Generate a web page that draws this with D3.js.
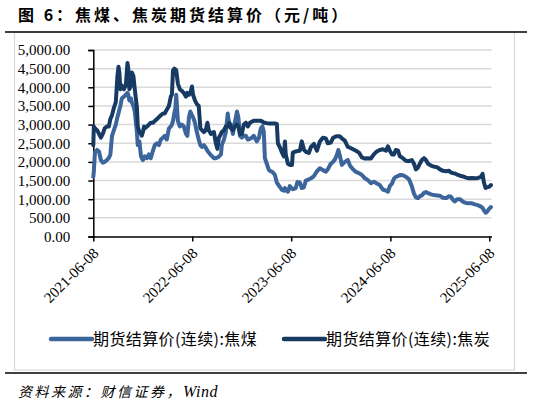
<!DOCTYPE html>
<html><head><meta charset="utf-8">
<script src="https://cdn.jsdelivr.net/npm/d3@7/dist/d3.min.js"></script>
<style>
body{margin:0;background:#fff;}
svg{display:block;}
</style></head>
<body><svg id="c" width="534" height="405"></svg>
<script>
const dates = ["2021-06-08","2021-06-10","2021-06-14","2021-06-22","2021-06-29","2021-07-06","2021-07-13","2021-07-20","2021-07-28","2021-08-04","2021-08-10","2021-08-16","2021-08-23","2021-08-30","2021-09-05","2021-09-09","2021-09-12","2021-09-16","2021-09-21","2021-09-29","2021-10-06","2021-10-12","2021-10-15","2021-10-19","2021-10-25","2021-10-28","2021-11-03","2021-11-08","2021-11-16","2021-11-19","2021-11-25","2021-12-01","2021-12-04","2021-12-08","2021-12-12","2021-12-15","2021-12-23","2021-12-30","2022-01-06","2022-01-14","2022-01-21","2022-01-29","2022-02-05","2022-02-12","2022-02-20","2022-02-27","2022-03-06","2022-03-14","2022-03-21","2022-03-25","2022-03-29","2022-04-03","2022-04-07","2022-04-10","2022-04-16","2022-04-23","2022-05-01","2022-05-08","2022-05-16","2022-05-21","2022-05-27","2022-06-01","2022-06-07","2022-06-11","2022-06-18","2022-06-25","2022-07-02","2022-07-08","2022-07-14","2022-07-21","2022-07-28","2022-08-03","2022-08-08","2022-08-16","2022-08-27","2022-09-03","2022-09-09","2022-09-14","2022-09-22","2022-09-25","2022-10-03","2022-10-10","2022-10-17","2022-10-23","2022-10-29","2022-11-05","2022-11-12","2022-11-20","2022-11-25","2022-12-01","2022-12-08","2022-12-15","2022-12-23","2022-12-30","2023-01-07","2023-01-14","2023-01-21","2023-02-01","2023-02-09","2023-02-16","2023-02-22","2023-02-27","2023-03-03","2023-03-10","2023-03-18","2023-03-25","2023-04-01","2023-04-09","2023-04-16","2023-04-20","2023-04-27","2023-05-05","2023-05-12","2023-05-16","2023-05-19","2023-05-27","2023-06-03","2023-06-11","2023-06-14","2023-06-25","2023-07-01","2023-07-10","2023-07-17","2023-07-25","2023-08-01","2023-08-12","2023-08-20","2023-08-31","2023-09-11","2023-09-22","2023-10-03","2023-10-14","2023-10-21","2023-11-01","2023-11-09","2023-11-16","2023-11-24","2023-11-29","2023-12-05","2023-12-12","2023-12-23","2024-01-03","2024-01-11","2024-01-22","2024-02-02","2024-02-13","2024-02-24","2024-03-06","2024-03-17","2024-03-28","2024-04-08","2024-04-19","2024-04-30","2024-05-11","2024-05-23","2024-05-30","2024-06-06","2024-06-14","2024-06-21","2024-06-28","2024-07-06","2024-07-13","2024-07-24","2024-08-04","2024-08-15","2024-08-26","2024-09-03","2024-09-10","2024-09-18","2024-09-25","2024-10-02","2024-10-10","2024-10-17","2024-10-25","2024-11-05","2024-11-16","2024-11-27","2024-12-08","2024-12-19","2024-12-31","2025-01-10","2025-01-17","2025-01-25","2025-02-01","2025-02-09","2025-02-20","2025-03-03","2025-03-14","2025-03-25","2025-04-05","2025-04-16","2025-04-27","2025-05-08","2025-05-14","2025-05-19","2025-05-25","2025-05-30","2025-06-07","2025-06-14"];

// 期货结算价(连续):焦煤
const cokingCoal = [1600,1750,2250,2320,2280,2050,1980,2000,2050,2100,2200,2700,2850,3000,3200,3300,3400,3500,3700,3750,3800,3850,3800,3650,3700,3600,3500,3350,2800,2450,2550,2150,2100,2050,2100,2150,2100,2200,2100,2300,2450,2500,2450,2600,2650,2700,2600,2900,2950,3000,3100,3300,3450,3800,3100,2950,3000,2950,2750,2700,3200,3350,3250,3200,3050,2800,2600,2450,2400,2450,2380,2300,2250,2180,2100,2100,2120,2140,2200,2450,2600,2800,3300,2950,3000,2750,3050,3350,3200,2700,2650,2700,2700,2600,2620,2650,2700,2550,2650,2900,2950,2800,2100,1950,1780,1750,1720,1650,1450,1400,1330,1250,1230,1300,1250,1200,1350,1280,1270,1300,1460,1450,1300,1320,1500,1530,1560,1620,1750,1830,1780,1740,1800,1950,2000,2060,2200,2320,2150,1920,2000,2050,1900,1800,1730,1700,1650,1560,1510,1430,1470,1420,1380,1260,1230,1200,1350,1420,1550,1600,1620,1650,1640,1600,1540,1350,1150,1050,1030,1080,1100,1170,1190,1160,1130,1110,1100,1090,1040,1030,1080,1070,980,940,1000,1000,930,900,890,890,860,840,800,770,700,640,660,740,790];

// 期货结算价(连续):焦炭
const coke = [2450,2950,2900,2850,2750,2650,2750,2900,2950,2950,3150,3250,3450,3600,4300,4550,4400,3950,4050,3950,4050,4650,4500,3950,4050,4400,4300,3950,3450,2950,2800,2750,2700,2800,2950,2900,2950,3000,3050,3050,3100,3150,3200,3250,3300,3300,3400,3500,3750,3800,4450,4500,4480,4450,4100,3950,3900,3850,3750,3850,3800,3850,4020,3800,3650,3550,3500,2900,2850,2800,2850,3050,2850,2750,2800,2500,2350,2650,2750,2800,2850,2950,2950,3050,2900,2850,2950,3000,2950,2750,2750,3000,3050,2950,3050,3080,3100,3100,3100,3100,3080,3050,3050,3040,3030,3030,3030,3030,3020,2500,2400,2250,2150,2550,2200,1950,1920,1920,2250,2280,2290,2300,2550,2330,2270,2240,2400,2480,2300,2550,2650,2630,2500,2520,2640,2670,2690,2690,2680,2630,2570,2400,2380,2340,2300,2250,2120,2090,2100,2090,2200,2280,2320,2340,2300,2420,2300,2200,2200,2320,2300,2150,2100,2030,2020,2050,1950,1800,1850,1960,2050,2100,2050,1950,1900,1870,1860,1800,1760,1750,1760,1720,1700,1690,1660,1630,1610,1580,1560,1570,1560,1570,1600,1680,1450,1300,1320,1330,1380];

const yTicks = [0,500,1000,1500,2000,2500,3000,3500,4000,4500,5000];
const xTickLabels = ["2021-06-08","2022-06-08","2023-06-08","2024-06-08","2025-06-08"];
const seriesNames = ["期货结算价(连续):焦煤","期货结算价(连续):焦炭"];
const colors = ["#3b659b","#173a63"];

const parse = d3.timeParse("%Y-%m-%d");
const svg = d3.select("#c");

// frame
svg.append("rect").attr("x",14.5).attr("y",32).attr("width",500).attr("height",338)
  .attr("fill","none").attr("stroke","#d9d9d9").attr("stroke-width",1.2);
svg.append("line").attr("x1",5).attr("x2",527).attr("y1",32).attr("y2",32).attr("stroke","#000").attr("stroke-width",1.5);
svg.append("line").attr("x1",5).attr("x2",527).attr("y1",373).attr("y2",373).attr("stroke","#000").attr("stroke-width",1.5);

// title
svg.append("text").attr("x",18).attr("y",21)
  .attr("font-family","'Noto Sans CJK SC'").attr("font-weight",700).attr("font-size",16)
  .attr("letter-spacing","3px").attr("fill","#000")
  .text("图 6：焦煤、焦炭期货结算价（元/吨）");

// source
const src = svg.append("text").attr("x",18).attr("y",397)
  .attr("font-family","'Noto Sans CJK SC'").attr("font-style","italic").attr("font-size",14)
  .attr("letter-spacing","2.5px").attr("fill","#000");
src.append("tspan").text("资料来源：财信证券，");
src.append("tspan").attr("font-family","'Liberation Serif'").attr("letter-spacing","0.5px").attr("font-size",16).text("Wind");

const x = d3.scaleTime().domain([parse("2021-06-08"), parse("2025-06-16")]).range([93.3, 491.5]);
const y = d3.scaleLinear().domain([0,5000]).range([236.5, 50]);

// gridlines
svg.append("g").selectAll("line").data(yTicks.filter(v=>v>0)).join("line")
  .attr("x1",93.3).attr("x2",491.5).attr("y1",d=>y(d)).attr("y2",d=>y(d))
  .attr("stroke","#d9d9d9").attr("stroke-width",1.5);

const fmt = d3.format(",.2f");
const yAxis = svg.append("g").attr("transform","translate(93.3,0)")
  .call(d3.axisLeft(y).tickValues(yTicks).tickFormat(fmt).tickSize(5).tickPadding(18));
yAxis.select(".domain").attr("stroke","#000").attr("stroke-width",1.5);
yAxis.selectAll(".tick line").attr("stroke","#000").attr("stroke-width",1.5);
yAxis.selectAll("text").attr("font-family","'Liberation Serif'").attr("font-size",15).attr("fill","#000");

const xAxis = svg.append("g").attr("transform","translate(0,236.5)")
  .call(d3.axisBottom(x).tickValues(xTickLabels.map(parse)).tickFormat(d3.timeFormat("%Y-%m-%d")).tickSize(5).tickSizeOuter(0));
xAxis.select(".domain").attr("stroke","#000").attr("stroke-width",1.5);
xAxis.selectAll(".tick line").attr("stroke","#000").attr("stroke-width",1.5);
xAxis.selectAll("text").attr("font-family","'Liberation Serif'").attr("font-size",15).attr("fill","#000")
  .attr("text-anchor","end").attr("transform","translate(2,14) rotate(-45)").attr("dy","0.35em").attr("y",0).attr("x",0);

// lines
const pts = (vals)=>dates.map((d,i)=>({d:parse(d),v:vals[i]}));
const line = d3.line().x(p=>x(p.d)).y(p=>y(p.v));
[cokingCoal, coke].forEach((vals,i)=>{
  svg.append("path").datum(pts(vals)).attr("d",line).attr("fill","none")
    .attr("stroke",colors[i]).attr("stroke-width",4).attr("stroke-linejoin","round").attr("stroke-linecap","round");
});

// legend
const legX = [51, 284];
seriesNames.forEach((n,i)=>{
  svg.append("line").attr("x1",legX[i]).attr("x2",legX[i]+41).attr("y1",339).attr("y2",339)
    .attr("stroke",colors[i]).attr("stroke-width",4.5).attr("stroke-linecap","round");
  svg.append("text").attr("x",legX[i]+42).attr("y",345).attr("font-family","'Noto Sans CJK SC'")
    .attr("font-size",16).attr("letter-spacing","0.4px").attr("fill","#000").text(n);
});
</script></body></html>
